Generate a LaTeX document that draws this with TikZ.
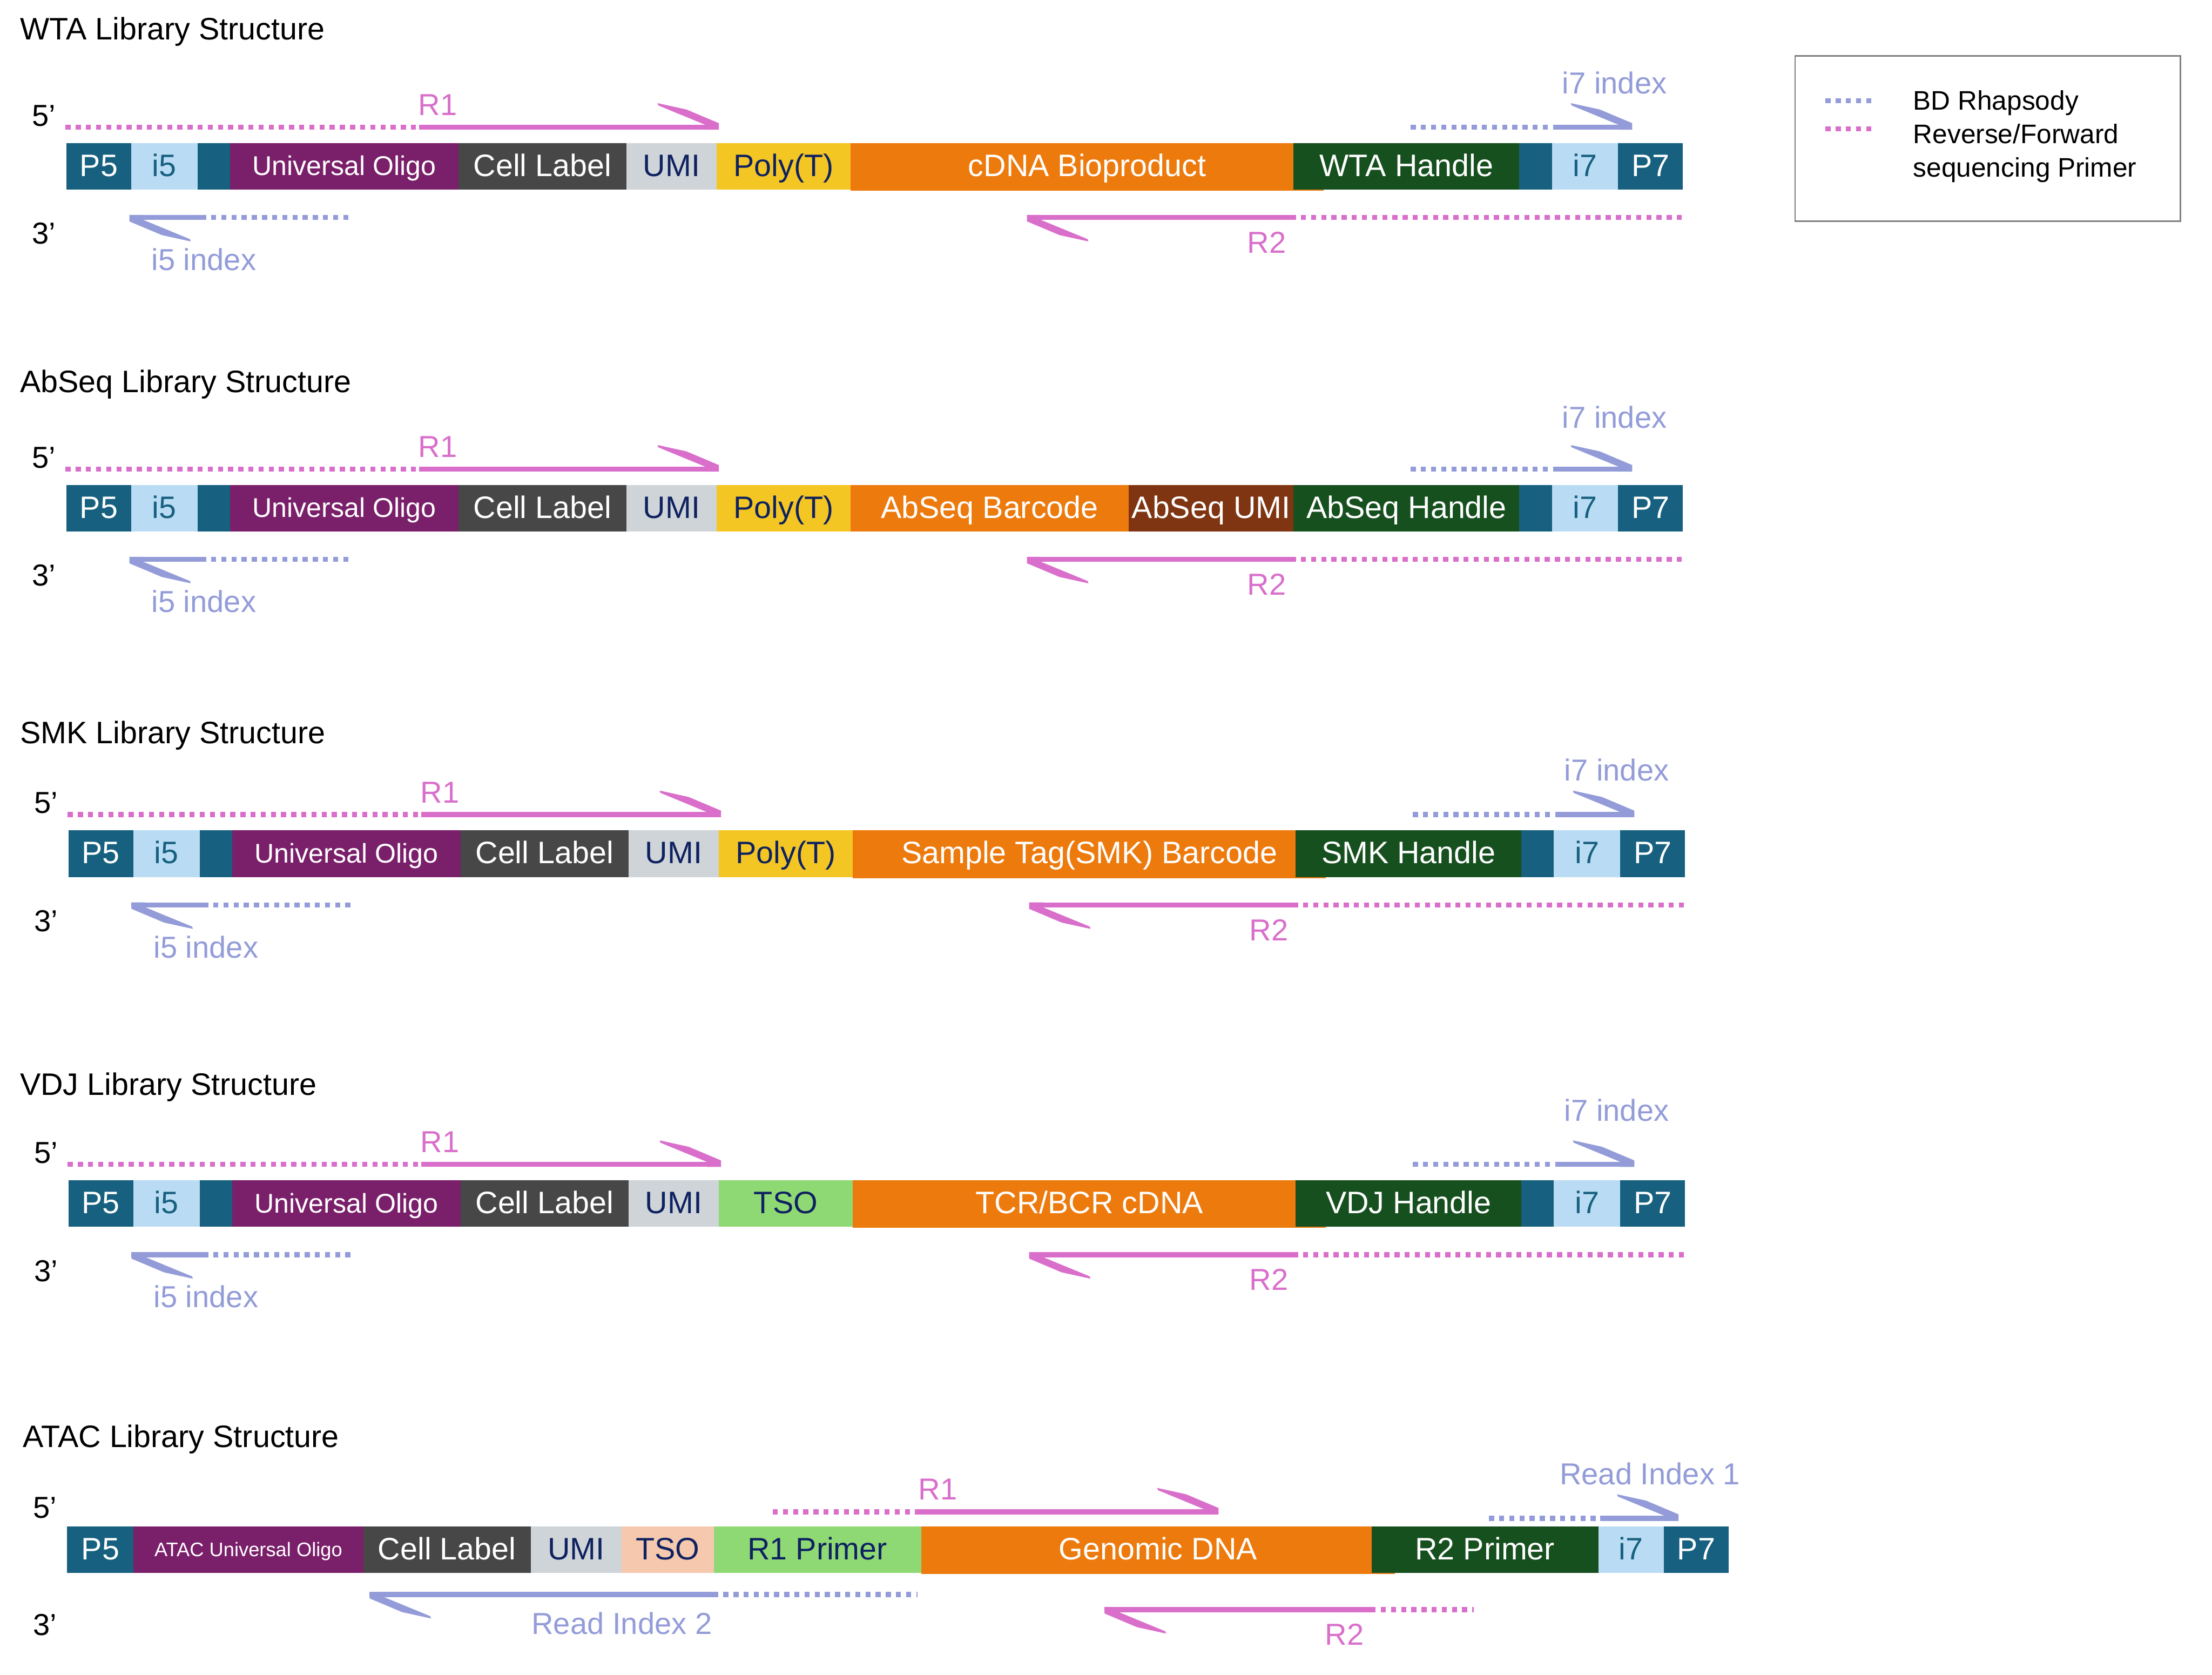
\documentclass[tikz,border=0pt]{standalone}
\usepackage{fontspec}
\setmainfont{Liberation Sans}
\definecolor{cdb}{HTML}{17607F}
\definecolor{clb}{HTML}{B9DCF4}
\definecolor{cteal}{HTML}{17607F}
\definecolor{cpur}{HTML}{7A1F6A}
\definecolor{cgray}{HTML}{474747}
\definecolor{clg}{HTML}{CFD4D8}
\definecolor{cnavy}{HTML}{0E2160}
\definecolor{cyel}{HTML}{F4C623}
\definecolor{corg}{HTML}{ED7A0D}
\definecolor{cdg}{HTML}{17501F}
\definecolor{cbrn}{HTML}{7F3512}
\definecolor{cgrn}{HTML}{8FD974}
\definecolor{cpeach}{HTML}{F6C8AE}
\definecolor{cpink}{HTML}{D96FCB}
\definecolor{cblue}{HTML}{939CD8}
\definecolor{cbox}{HTML}{7F7F7F}
\tikzset{
  fbig/.style={font=\fontsize{22}{26}\selectfont},
  flbl/.style={font=\fontsize{21.5}{25}\selectfont},
  fuo/.style={font=\fontsize{19.2}{22}\selectfont, yshift=0.6pt},
  fsmall/.style={font=\fontsize{13.9}{16}\selectfont, yshift=2.2pt},
  btxt/.style={inner sep=0pt, anchor=base},
  ttl/.style={inner sep=0pt, anchor=base west, fbig},
  endlbl/.style={inner sep=0pt, anchor=base west, flbl},
  plbl/.style={inner sep=0pt, anchor=base, flbl, text=cpink},
  blbl/.style={inner sep=0pt, anchor=base, flbl, text=cblue},
  dotl/.style={line width=3.6pt, dash pattern=on 3.6pt off 3.6pt},
  soll/.style={line width=3.6pt},
  legtxt/.style={inner sep=0pt, anchor=base west, font=\fontsize{19}{22}\selectfont}
}
% name, x1, x2, fill, textcolour, fontstyle, text
\newcommand\dnaseg[7]{%
  \fill[#4] (#2,0) rectangle (#3,33);
  \node[btxt,#6,text=#5] (#1) at ({(#2+#3)/2},23.6) {#7};}
% name, x1, x2, fill (no text)
\newcommand\dnaspacer[4]{%
  \fill[#4] (#2,0) rectangle (#3,33);
  \coordinate (#1) at ({(#2+#3)/2},16.5);}
% name, x1, xext, text  (orange block slightly wider, under the handle)
\newcommand\dnaorange[4]{%
  \fill[corg] (#2,0) rectangle (#3,33.8);
  \node[btxt,fbig,text=white] (#1) at ({(#2+#3)/2},23.6) {#4};}
% forward primer: dotted xa->xb, solid xb->xe, line y, colour
\newcommand\primerfwd[5]{%
  \draw[dotl,#5] (#1,#4) -- (#2,#4);
  \draw[soll,#5] (#2,#4) -- (#3,#4);
  \fill[#5] (#3,#4+1.8) -- (#3,#4-2.8) -- (#3-23,#4-12.5) -- (#3-43.5,#4-17) -- (#3-43,#4-15.4) -- (#3-10,#4-1.8) -- (#3-10,#4+1.8) -- cycle;}
% reverse primer: solid xs->xb, dotted xb->xd, line y, colour
\newcommand\primerrev[5]{%
  \draw[soll,#5] (#1,#4) -- (#2,#4);
  \draw[dotl,#5] (#2,#4) -- (#3,#4);
  \fill[#5] (#1,#4-1.8) -- (#1,#4+2.8) -- (#1+23,#4+12.5) -- (#1+43.5,#4+17) -- (#1+43,#4+15.4) -- (#1+10,#4+1.8) -- (#1+10,#4-1.8) -- cycle;}
% common left part of rows 1-4: prefix
\newcommand\leftpart[1]{%
  \dnaseg{#1P5}{47}{93}{cdb}{white}{fbig}{P5}
  \dnaseg{#1i5}{93}{140}{clb}{cteal}{fbig}{i5}
  \dnaspacer{#1sp1}{140}{163}{cdb}
  \dnaseg{#1uo}{163}{325}{cpur}{white}{fuo}{Universal Oligo}
  \dnaseg{#1cl}{325}{444}{cgray}{white}{fbig}{Cell Label}
  \dnaseg{#1umi}{444}{508}{clg}{cnavy}{fbig}{UMI}}
\newcommand\rightpart[1]{%
  \dnaspacer{#1sp2}{1077}{1100}{cdb}
  \dnaseg{#1i7}{1100}{1147}{clb}{cteal}{fbig}{i7}
  \dnaseg{#1P7}{1147}{1193}{cdb}{white}{fbig}{P7}}
% primers and labels of rows 1-4: prefix, baseline of i7 index label
\newcommand\stdprimers[2]{%
  \node[endlbl] (#1five) at (22.5,-12) {5’};
  \node[endlbl] (#1three) at (22.5,71.7) {3’};
  \primerfwd{46.5}{297}{509.6}{-11.2}{cpink}
  \node[plbl] (#1R1) at (310.3,-19.6) {R1};
  \primerfwd{1000}{1103}{1157}{-11.2}{cblue}
  \node[blbl] (#1i7x) at (1144.5,#2) {i7 index};
  \primerrev{91.7}{142.5}{248.7}{52.8}{cblue}
  \node[blbl] (#1i5x) at (144.5,90.3) {i5 index};
  \primerrev{728}{915}{1192}{52.8}{cpink}
  \node[plbl] (#1R2) at (898,78.1) {R2};}

\begin{document}
\begin{tikzpicture}[x=1pt,y=-1pt]
\useasboundingbox (0,0) rectangle (1568,1187);
\fill[white] (0,0) rectangle (1568,1187);

% titles
\node[ttl] (t1) at (14,28.3) {WTA Library Structure};
\node[ttl] (t2) at (14,278) {AbSeq Library Structure};
\node[ttl] (t3) at (14,527) {SMK Library Structure};
\node[ttl] (t4) at (14,776) {VDJ Library Structure};
\node[ttl] (t5) at (16,1025.7) {ATAC Library Structure};

% WTA
\begin{scope}[shift={(0,101.3)}]
  \leftpart{w}
  \dnaseg{wpt}{508}{603}{cyel}{cnavy}{fbig}{Poly(T)}
  \dnaorange{wcdna}{603}{938.4}{cDNA Bioproduct}
  \dnaseg{wh}{917}{1077}{cdg}{white}{fbig}{WTA Handle}
  \rightpart{w}
  \stdprimers{w}{-34.8}
\end{scope}

% AbSeq
\begin{scope}[shift={(0,343.6)}]
  \leftpart{a}
  \dnaseg{apt}{508}{603}{cyel}{cnavy}{fbig}{Poly(T)}
  \dnaseg{abc}{603}{800}{corg}{white}{fbig}{AbSeq Barcode}
  \dnaseg{aumi2}{800}{917}{cbrn}{white}{fbig}{AbSeq UMI}
  \dnaseg{ah}{917}{1077}{cdg}{white}{fbig}{AbSeq Handle}
  \rightpart{a}
  \stdprimers{a}{-40.1}
\end{scope}

% SMK
\begin{scope}[shift={(1.5,588.5)}]
  \leftpart{s}
  \dnaseg{spt}{508}{603}{cyel}{cnavy}{fbig}{Poly(T)}
  \dnaorange{sbc}{603}{938.4}{Sample Tag(SMK) Barcode}
  \dnaseg{sh}{917}{1077}{cdg}{white}{fbig}{SMK Handle}
  \rightpart{s}
  \stdprimers{s}{-35}
\end{scope}

% VDJ
\begin{scope}[shift={(1.5,836.4)}]
  \leftpart{v}
  \dnaseg{vtso}{508}{603}{cgrn}{cnavy}{fbig}{TSO}
  \dnaorange{vcdna}{603}{938.4}{TCR/BCR cDNA}
  \dnaseg{vh}{917}{1077}{cdg}{white}{fbig}{VDJ Handle}
  \rightpart{v}
  \stdprimers{v}{-41.9}
\end{scope}

% ATAC
\begin{scope}[shift={(0,1081.7)}]
  \dnaseg{xP5}{47.6}{94.7}{cdb}{white}{fbig}{P5}
  \dnaseg{xuo}{94.7}{257.5}{cpur}{white}{fsmall}{ATAC Universal Oligo}
  \dnaseg{xcl}{257.5}{376.2}{cgray}{white}{fbig}{Cell Label}
  \dnaseg{xumi}{376.2}{440.8}{clg}{cnavy}{fbig}{UMI}
  \dnaseg{xtso}{440.8}{505.9}{cpeach}{cnavy}{fbig}{TSO}
  \dnaseg{xr1p}{505.9}{653}{cgrn}{cnavy}{fbig}{R1 Primer}
  \dnaorange{xgd}{653}{988.8}{Genomic DNA}
  \dnaseg{xr2p}{972.3}{1133}{cdg}{white}{fbig}{R2 Primer}
  \dnaseg{xi7}{1133}{1179.3}{clb}{cteal}{fbig}{i7}
  \dnaseg{xP7}{1179.3}{1225.5}{cdb}{white}{fbig}{P7}
  \node[endlbl] (xfive) at (23.2,-5.7) {5’};
  \node[endlbl] (xthree) at (23.2,77.3) {3’};
  \primerfwd{547.8}{650.4}{863.8}{-10.2}{cpink}
  \node[plbl] (xR1) at (664.8,-18.7) {R1};
  \primerfwd{1055.5}{1134.4}{1189.8}{-5.7}{cblue}
  \node[blbl] (xri1) at (1169.5,-29.7) {Read Index 1};
  \primerrev{262}{505.5}{650.4}{48.3}{cblue}
  \node[blbl] (xri2) at (440.8,76.6) {Read Index 2};
  \primerrev{783}{971.6}{1044.6}{59}{cpink}
  \node[plbl] (xR2) at (953,84.3) {R2};
\end{scope}

% legend
\node[draw=cbox, line width=1pt, anchor=north west, minimum width=273pt, minimum height=117.3pt, inner sep=0pt] (legend) at (1272,39) {};
\draw[dotl,cblue] (1294,71.4) -- (1328,71.4);
\draw[dotl,cpink] (1294,91.2) -- (1328,91.2);
\node[legtxt] (leg1) at (1356,78) {BD Rhapsody};
\node[legtxt] (leg2) at (1356,101.7) {Reverse/Forward};
\node[legtxt] (leg3) at (1356,125.4) {sequencing Primer};
\end{tikzpicture}
\end{document}
